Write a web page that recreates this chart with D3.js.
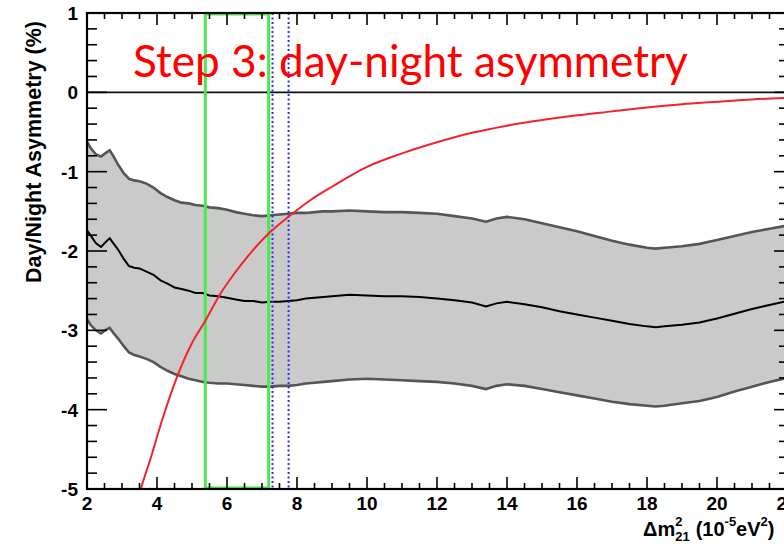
<!DOCTYPE html>
<html><head><meta charset="utf-8">
<script src="https://cdn.jsdelivr.net/npm/d3@7"></script>
<style>body{margin:0;background:#fff}svg{display:block}</style>
</head><body><svg id="c" width="784" height="544"></svg>
<script>
// ---- data ----
const dm2 = [2.0,2.1,2.25,2.4,2.55,2.65,2.75,2.9,3.05,3.2,3.35,3.5,3.7,3.9,4.1,4.3,4.5,4.7,4.9,5.1,5.3,5.5,5.75,6.0,6.25,6.5,6.75,7.0,7.25,7.5,7.75,8.0,8.25,8.5,8.75,9.0,9.5,10,10.5,11,11.5,12,12.5,13,13.4,13.7,14,14.5,15,15.5,16,16.5,17,17.5,18,18.25,18.5,19,19.5,20,20.5,21,21.5,22];
const asymMid = [-1.74,-1.80,-1.90,-1.95,-1.88,-1.84,-1.90,-1.99,-2.10,-2.19,-2.21,-2.22,-2.26,-2.30,-2.37,-2.41,-2.46,-2.48,-2.50,-2.53,-2.53,-2.56,-2.57,-2.59,-2.61,-2.63,-2.63,-2.65,-2.64,-2.64,-2.63,-2.62,-2.60,-2.59,-2.58,-2.57,-2.55,-2.56,-2.57,-2.57,-2.58,-2.60,-2.62,-2.65,-2.70,-2.66,-2.64,-2.67,-2.71,-2.76,-2.80,-2.84,-2.88,-2.92,-2.95,-2.96,-2.95,-2.93,-2.90,-2.85,-2.79,-2.73,-2.68,-2.63];
const asymUpper = [-0.62,-0.70,-0.78,-0.81,-0.76,-0.73,-0.80,-0.92,-1.02,-1.09,-1.11,-1.12,-1.15,-1.20,-1.27,-1.32,-1.36,-1.39,-1.40,-1.42,-1.43,-1.45,-1.46,-1.48,-1.51,-1.53,-1.55,-1.56,-1.55,-1.54,-1.53,-1.52,-1.52,-1.51,-1.50,-1.50,-1.49,-1.50,-1.51,-1.51,-1.52,-1.53,-1.56,-1.59,-1.63,-1.59,-1.57,-1.60,-1.65,-1.70,-1.75,-1.81,-1.87,-1.92,-1.96,-1.97,-1.96,-1.94,-1.91,-1.86,-1.81,-1.76,-1.72,-1.68];
const asymLower = [-2.86,-2.93,-3.00,-3.04,-2.99,-2.97,-3.03,-3.11,-3.20,-3.28,-3.31,-3.33,-3.36,-3.40,-3.46,-3.51,-3.55,-3.58,-3.61,-3.63,-3.65,-3.66,-3.67,-3.67,-3.68,-3.69,-3.70,-3.71,-3.71,-3.70,-3.70,-3.69,-3.67,-3.66,-3.65,-3.64,-3.62,-3.61,-3.62,-3.63,-3.64,-3.65,-3.67,-3.70,-3.74,-3.70,-3.68,-3.70,-3.74,-3.78,-3.82,-3.86,-3.90,-3.93,-3.95,-3.96,-3.95,-3.92,-3.89,-3.84,-3.77,-3.71,-3.65,-3.60];
const predX = [3.40,3.54,3.8,4.14,4.57,5.0,5.38,5.81,6.2,6.57,7.19,7.81,8.38,9.0,10,11,12,13,14,15,16,17,18,19,20,21,22];
const predY = [-5.25,-5.0,-4.64,-4.14,-3.59,-3.16,-2.88,-2.54,-2.29,-2.08,-1.78,-1.55,-1.36,-1.19,-0.94,-0.77,-0.63,-0.51,-0.42,-0.35,-0.29,-0.24,-0.19,-0.15,-0.12,-0.09,-0.07];
const greenRange = [5.38, 7.19];
const blueLines = [7.30, 7.76];
const xTicks = [2,4,6,8,10,12,14,16,18,20,22];
const yTicks = [1,0,-1,-2,-3,-4,-5];
const titleText = "Step 3: day-night asymmetry";
const yTitle = "Day/Night Asymmetry (%)";

// ---- layout ----
const L = 87, R = 787, T = 13, B = 489;
const svg = d3.select("#c");
svg.append("rect").attr("width",784).attr("height",544).attr("fill","#fff");
const x = d3.scaleLinear().domain([2,22]).range([L,R]);
const y = d3.scaleLinear().domain([-5,1]).range([B,T]);

svg.append("clipPath").attr("id","pc").append("rect")
  .attr("x",L).attr("y",T).attr("width",R-L).attr("height",B-T);
const g = svg.append("g").attr("clip-path","url(#pc)");

const band = dm2.map((d,i)=>({x:d, lo:asymLower[i], hi:asymUpper[i], m:asymMid[i]}));
g.append("path").datum(band)
  .attr("d", d3.area().x(d=>x(d.x)).y0(d=>y(d.lo)).y1(d=>y(d.hi)))
  .attr("fill","#cacaca");
const line = key => d3.line().x(d=>x(d.x)).y(d=>y(d[key]));
g.append("path").datum(band).attr("d",line("hi")).attr("fill","none").attr("stroke","#555").attr("stroke-width",2.6);
g.append("path").datum(band).attr("d",line("lo")).attr("fill","none").attr("stroke","#555").attr("stroke-width",2.6);
g.append("path").datum(band).attr("d",line("m")).attr("fill","none").attr("stroke","#000").attr("stroke-width",2);

// zero line
g.append("line").attr("x1",L).attr("x2",R).attr("y1",y(0)).attr("y2",y(0)).attr("stroke","#111").attr("stroke-width",1.6);

// green box
g.append("rect").attr("x",x(greenRange[0])).attr("y",T+1).attr("width",x(greenRange[1])-x(greenRange[0])).attr("height",B-T-2)
  .attr("fill","none").attr("stroke","#4de84d").attr("stroke-width",3);

// blue dotted
blueLines.forEach(v=>{
  g.append("line").attr("x1",x(v)).attr("x2",x(v)).attr("y1",T).attr("y2",B)
   .attr("stroke","#2a2af0").attr("stroke-width",2).attr("stroke-dasharray","2,2.5");
});

// red prediction
const pred = predX.map((d,i)=>[d,predY[i]]);
g.append("path").datum(pred).attr("d", d3.line().x(d=>x(d[0])).y(d=>y(d[1])).curve(d3.curveMonotoneX))
  .attr("fill","none").attr("stroke","#f2232b").attr("stroke-width",2);

// frame
svg.append("rect").attr("x",L).attr("y",T).attr("width",R-L).attr("height",B-T)
  .attr("fill","none").attr("stroke","#000").attr("stroke-width",2.2);

// ticks
const tk = svg.append("g").attr("stroke","#000").attr("stroke-width",1.6);
for (let v=2; v<=22.001; v+=0.5){
  const major = Math.abs(v/2 - Math.round(v/2))<1e-6;
  const len = major?12:6;
  tk.append("line").attr("x1",x(v)).attr("x2",x(v)).attr("y1",B).attr("y2",B-len);
  tk.append("line").attr("x1",x(v)).attr("x2",x(v)).attr("y1",T).attr("y2",T+len);
}
for (let k=-25; k<=5; k++){
  const v = k/5;
  const major = k%5===0;
  tk.append("line").attr("x1",L).attr("x2",L+(major?20:10)).attr("y1",y(v)).attr("y2",y(v));
  tk.append("line").attr("x1",R).attr("x2",R-(major?13:8)).attr("y1",y(v)).attr("y2",y(v));
}

// tick labels
const lab = svg.append("g").attr("font-family","'Liberation Sans', Arial, sans-serif").attr("font-weight","bold").attr("font-size",19).attr("fill","#000");
yTicks.forEach(v=>{
  lab.append("text").attr("x",L-9).attr("y",y(v)).attr("dy","0.36em").attr("text-anchor","end").text(v);
});
xTicks.forEach(v=>{
  lab.append("text").attr("x",x(v)).attr("y",B+21).attr("text-anchor","middle").text(v);
});

// y title
svg.append("text").attr("transform",`translate(41,${152}) rotate(-90)`).attr("text-anchor","middle")
  .attr("font-family","'Liberation Sans', Arial, sans-serif").attr("font-weight","bold").attr("font-size",21.5).text(yTitle);

// x title
const xt = svg.append("g").attr("font-family","'Liberation Sans', Arial, sans-serif").attr("font-weight","bold").attr("fill","#000").style("white-space","pre");
let cx = 643; const base = 536;
function piece(txt, size, dy){ const t = xt.append("text").attr("x",cx).attr("y",base+dy).attr("font-size",size).text(txt); return t.node().getComputedTextLength(); }
cx += piece("Δm",20,0);
const w1 = piece("2",13,-10);
const w2 = piece("21",13,5);
cx += Math.max(w1,w2) + 6;
cx += piece("(10",20,0);
cx += piece("-5",13,-10);
cx += piece("eV",20,0);
cx += piece("2",13,-10);
cx += piece(")",20,0);

// title
const tt = svg.append("text").attr("x",133).attr("y",77).attr("fill","#ff0000")
  .attr("font-family","Lato, 'Open Sans', sans-serif").attr("font-size",40).text(titleText);
const tl = tt.node().getComputedTextLength();
tt.attr("font-size", 40*555/tl);
</script></body></html>
